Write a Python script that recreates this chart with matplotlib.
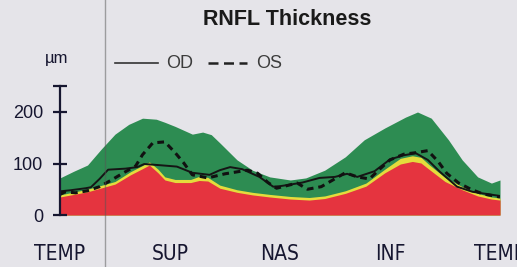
import matplotlib
matplotlib.use('Agg')
import matplotlib.pyplot as plt
from matplotlib import font_manager
from matplotlib.font_manager import FontProperties
from matplotlib.lines import Line2D
import os

# sample position along the scan circle (0..256), TEMP-SUP-NAS-INF-TEMP
tick_pos = [0, 64, 128, 192, 256]
tick_labels = ['TEMP', 'SUP', 'NAS', 'INF', 'TEMP']

# normative bands (µm)
x_low = [0, 16, 32, 41, 48, 52, 57, 61, 67, 76, 81, 86, 93, 103, 112, 122, 134, 145,
         154, 166, 178, 189, 198, 205, 210, 215, 224, 234, 243, 251, 256]
p1 = [35, 45, 60, 78, 90, 97, 82, 68, 63, 63, 67, 66, 52, 44, 39, 35, 31, 29,
      32, 42, 56, 82, 99, 104, 101, 88, 65, 49, 37, 31, 29]
p5 = [39, 50, 65, 84, 96, 103, 89, 74, 69, 69, 75, 73, 58, 49, 44, 40, 36, 34,
      37, 47, 62, 89, 110, 115, 112, 97, 73, 55, 42, 35, 33]

x_high = [0, 8, 16, 24, 32, 40, 48, 56, 61, 67, 77, 83, 88, 93, 103, 112, 122, 134,
          143, 154, 166, 177, 189, 201, 208, 216, 226, 234, 243, 251, 256]
p95 = [72, 85, 97, 128, 157, 176, 188, 186, 180, 172, 157, 161, 156, 140, 107, 87, 74, 68,
       72, 87, 113, 146, 169, 190, 200, 188, 146, 107, 74, 62, 68]

# measured thickness
x_od = [0, 6, 15, 18, 23, 28, 38, 45, 49, 57, 68, 77, 87, 93, 99, 106, 116, 124, 128,
        132, 141, 151, 160, 167, 173, 183, 192, 200, 207, 214, 221, 231, 240, 256]
od = [46, 48, 52, 54, 70, 88, 90, 93, 99, 97, 94, 82, 78, 87, 93, 89, 74, 55, 56,
      58, 63, 72, 74, 80, 74, 85, 108, 116, 120, 107, 84, 55, 45, 37]

x_os = [0, 3, 9, 16, 23, 30, 37, 44, 48, 54, 61, 67, 72, 77, 86, 96, 109, 115, 121,
        126, 138, 144, 152, 166, 173, 180, 186, 192, 200, 207, 214, 220, 225, 232,
        239, 246, 256]
os_ = [40, 45, 43, 47, 55, 68, 82, 95, 117, 140, 142, 121, 101, 78, 72, 80, 87, 81, 63,
       52, 62, 50, 55, 82, 74, 70, 89, 107, 118, 121, 125, 104, 81, 62,
       50, 41, 35]


def narrow_font():
    # look for a condensed sans for the sector labels
    files = {os.path.basename(f.fname): f.fname for f in font_manager.fontManager.ttflist}
    for want in ['LiberationSansNarrow-Bold.ttf', 'LiberationSansNarrow-Regular.ttf',
                 'DejaVuSansCondensed.ttf', 'DejaVuSansCondensed-Bold.ttf']:
        if want in files:
            return FontProperties(fname=files[want], size=15)
    return FontProperties(family='Liberation Sans', size=13)


plt.rcParams['font.family'] = ['Liberation Sans', 'DejaVu Sans']

bg = '#e5e4e9'
ink = '#161630'
W, H = 517, 267

fig = plt.figure(figsize=(W / 100, H / 100), dpi=100, facecolor=bg)
ax = fig.add_axes([60 / W, 52 / H, 440 / W, 128.75 / H])
ax.set_facecolor('none')

ax.fill_between(x_high, 0, p95, color='#2d8c52', lw=0, zorder=1)
ax.fill_between(x_low, 0, p5, color='#e4dc3c', lw=0, zorder=1.1)
ax.fill_between(x_low, 0, p1, color='#e5343f', lw=0, zorder=1.2)

ax.plot(x_od, od, color='#151515', lw=1.4, zorder=3)
ax.plot(x_os, os_, color='#111111', lw=2.2, ls=(0, (2.2, 1.6)), zorder=3)

ax.set_xlim(0, 256)
ax.set_ylim(0, 250)
for s in ['top', 'right', 'bottom']:
    ax.spines[s].set_visible(False)
ax.spines['left'].set_bounds(0, 250)
ax.spines['left'].set_linewidth(1.6)
ax.spines['left'].set_color(ink)
ax.spines['left'].set_zorder(4)

ax.set_yticks([0, 100, 200, 250])
ax.set_yticklabels(['0', '100', '200', ''])
ax.tick_params(axis='y', direction='inout', length=10, width=1.6, color=ink,
               labelsize=13, labelcolor=ink, pad=7)
ax.set_xticks(tick_pos)
ax.set_xticklabels(tick_labels, fontproperties=narrow_font())
ax.tick_params(axis='x', length=0, pad=21, labelcolor=ink)

# title, unit, legend
fig.text(287 / W, 1 - 19.5 / H, 'RNFL Thickness', ha='center', va='center',
         fontsize=15.5, fontweight='bold', color='#1a1a1a')
fig.text(56.5 / W, 1 - 59 / H, 'µm', ha='center', va='center', fontsize=12, color=ink)

ly = 1 - 63 / H
fig.add_artist(Line2D([115 / W, 158 / W], [ly, ly], color='#333333', lw=1.2))
fig.text(166 / W, ly, 'OD', ha='left', va='center', fontsize=13, color='#3c3c3c')
fig.add_artist(Line2D([208 / W, 247 / W], [ly, ly], color='#222222', lw=1.8,
                      ls=(0, (4, 2.2))))
fig.text(256 / W, ly, 'OS', ha='left', va='center', fontsize=13, color='#3c3c3c')

# page separator line from the printout
fig.add_artist(Line2D([105 / W, 105 / W], [0, 1], color='#555555', lw=1.0, alpha=0.5, zorder=5))

fig.savefig('out.png', dpi=100, facecolor=bg)
